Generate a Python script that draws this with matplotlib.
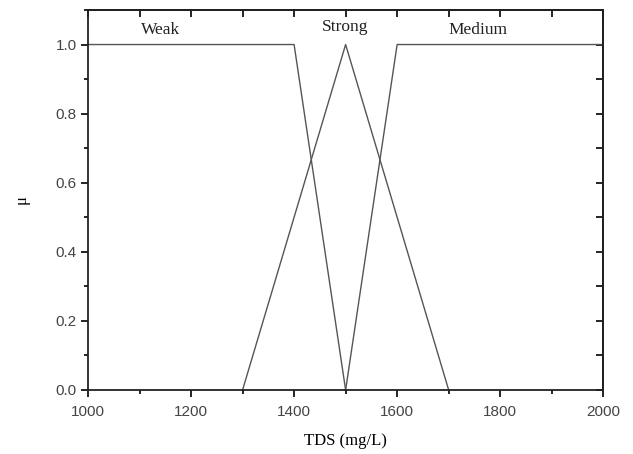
import matplotlib
matplotlib.use("Agg")
import matplotlib.pyplot as plt
from matplotlib.ticker import MultipleLocator

# membership functions (TDS in mg/L)
weak_x = [1000, 1400, 1500]
weak_y = [1.0, 1.0, 0.0]
strong_x = [1300, 1500, 1700]
strong_y = [0.0, 1.0, 0.0]
medium_x = [1500, 1600, 2000]
medium_y = [0.0, 1.0, 1.0]

labels = ["Weak", "Strong", "Medium"]
label_x = [1140, 1499, 1757]
label_y = [1.043, 1.05, 1.043]

fig = plt.figure(figsize=(6.33, 4.54), dpi=100)
ax = fig.add_axes([0.139, 0.141, 0.814, 0.837])

line_color = "#555555"
for xs, ys in [(weak_x, weak_y), (strong_x, strong_y), (medium_x, medium_y)]:
    ax.plot(xs, ys, color=line_color, lw=1.0)

for t, x, y in zip(labels, label_x, label_y):
    ax.text(x, y, t, ha="center", va="center", family="Liberation Serif",
            fontsize=12.5, color="#222222")

ax.set_xlim(1000, 2000)
ax.set_ylim(0, 1.1)

ax.xaxis.set_major_locator(MultipleLocator(200))
ax.xaxis.set_minor_locator(MultipleLocator(100))
ax.yaxis.set_major_locator(MultipleLocator(0.2))
ax.yaxis.set_minor_locator(MultipleLocator(0.1))
ax.yaxis.set_major_formatter(plt.FuncFormatter(lambda v, p: f"{v:.1f}"))

# bottom/left ticks point out, top/right mirror ticks point in
ax.tick_params(which="both", direction="out", labelsize=11,
               labelcolor="#444444", width=1.2, pad=3)
ax.tick_params(axis="x", pad=6)
ax.tick_params(which="major", length=5)
ax.tick_params(which="minor", length=3)
for lab in ax.get_xticklabels() + ax.get_yticklabels():
    lab.set_family("Liberation Sans")

top = ax.secondary_xaxis("top")
top.xaxis.set_major_locator(MultipleLocator(200))
top.xaxis.set_minor_locator(MultipleLocator(100))
top.tick_params(which="both", direction="in", labeltop=False, width=1.2, length=5)
right = ax.secondary_yaxis("right")
right.yaxis.set_major_locator(MultipleLocator(0.2))
right.yaxis.set_minor_locator(MultipleLocator(0.1))
right.tick_params(which="both", direction="in", labelright=False, width=1.2, length=5)
top.spines["top"].set_linewidth(1.3)
right.spines["right"].set_linewidth(1.3)

for s in ax.spines.values():
    s.set_linewidth(1.3)
    s.set_color("#222222")

ax.set_xlabel("TDS (mg/L)", family="Liberation Serif", fontsize=12, labelpad=10)
ax.set_ylabel("μ", family="Liberation Serif", fontsize=12, labelpad=19)

fig.savefig("out.png", dpi=100)
